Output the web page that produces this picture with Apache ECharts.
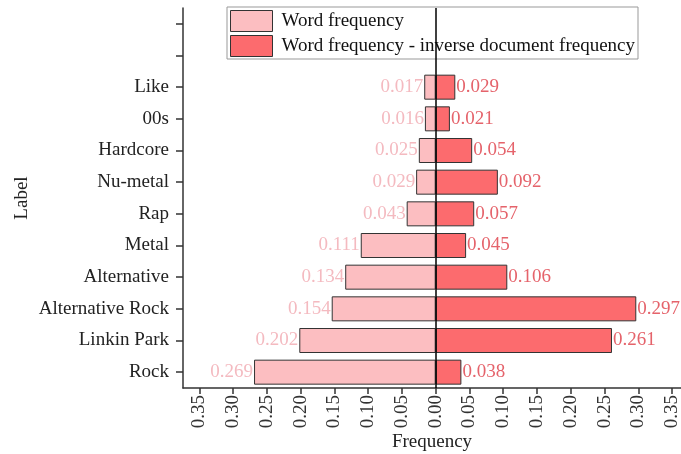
<!DOCTYPE html>
<html>
<head>
<meta charset="utf-8">
<script src="https://cdn.jsdelivr.net/npm/echarts@6/dist/echarts.min.js"></script>
<style>html,body{margin:0;padding:0;background:#fff}#c{width:681px;height:454px}</style>
</head>
<body>
<div id="c"></div>
<script>
const categories = ['Rock', 'Linkin Park', 'Alternative Rock', 'Alternative', 'Metal', 'Rap', 'Nu-metal', 'Hardcore', '00s', 'Like', '', ' '];
const wordFreq = [0.269, 0.202, 0.154, 0.134, 0.111, 0.043, 0.029, 0.025, 0.016, 0.017, null, null];
const tfidf = [0.038, 0.261, 0.297, 0.106, 0.045, 0.057, 0.092, 0.054, 0.021, 0.029, null, null];
const tickValues = [-0.35, -0.30, -0.25, -0.20, -0.15, -0.10, -0.05, 0, 0.05, 0.10, 0.15, 0.20, 0.25, 0.30, 0.35];

const FONT = '"Liberation Serif", "Times New Roman", serif';
const chart = echarts.init(document.getElementById('c'));
chart.setOption({
  backgroundColor: '#fff',
  animation: false,
  textStyle: { fontFamily: FONT },
  legend: {
    orient: 'vertical',
    left: 227, top: 7,
    width: 416,
    itemWidth: 42, itemHeight: 21, itemGap: 3,
    padding: [3, 3, 2, 3],
    backgroundColor: '#fff',
    borderColor: '#999', borderWidth: 1,
    icon: 'rect',
    z: 1,
    itemStyle: { borderColor: '#333', borderWidth: 1 },
    textStyle: { fontFamily: FONT, fontSize: 19, color: '#111', padding: [0, 0, 0, 4] },
    data: ['Word frequency', 'Word frequency - inverse document frequency']
  },
  grid: { left: 183, top: 8, bottom: 66, right: 0, outerBoundsMode: 'none' },
  xAxis: {
    type: 'value',
    min: -0.3742, max: 0.3632,
    name: 'Frequency', nameLocation: 'middle', nameGap: 45,
    nameMoveOverlap: false,
    nameTextStyle: { fontFamily: FONT, fontSize: 19, color: '#222', verticalAlign: 'top' },
    axisLine: { show: true, lineStyle: { color: '#333', width: 1.5 } },
    axisTick: { show: true, length: 6, lineStyle: { color: '#333', width: 1.5 }, customValues: tickValues },
    axisLabel: {
      rotate: 90, fontFamily: FONT, fontSize: 19, color: '#333', margin: 7,
      customValues: tickValues,
      formatter: v => Math.abs(v).toFixed(2)
    },
    splitLine: { show: false }
  },
  yAxis: {
    type: 'category',
    data: categories,
    name: 'Label', nameLocation: 'middle', nameGap: 151, nameRotate: 90,
    nameMoveOverlap: false,
    nameTextStyle: { fontFamily: FONT, fontSize: 19, color: '#222' },
    axisLine: { show: true, onZero: false, lineStyle: { color: '#333', width: 1.5 } },
    axisTick: { show: true, alignWithLabel: true, length: 7, lineStyle: { color: '#333', width: 1.5 } },
    axisLabel: { fontFamily: FONT, fontSize: 19, color: '#222', margin: 14 }
  },
  series: [
    {
      name: 'Word frequency',
      type: 'bar',
      barWidth: 25,
      barGap: '-100%',
      z: 3,
      data: wordFreq.map(v => v == null ? null : -v),
      itemStyle: { color: '#FCBEC1', borderColor: '#333', borderWidth: 1 },
      label: {
        show: true, position: 'left', distance: 1,
        fontFamily: FONT, fontSize: 19, color: '#F4BAC0',
        formatter: p => Math.abs(p.value).toFixed(3)
      },
      markLine: {
        silent: true, symbol: 'none', animation: false,
        label: { show: false },
        lineStyle: { color: '#000', width: 1.5, type: 'solid' },
        data: [{ xAxis: 0 }]
      }
    },
    {
      name: 'Word frequency - inverse document frequency',
      type: 'bar',
      barWidth: 25,
      z: 3,
      data: tfidf,
      itemStyle: { color: '#FC6B6E', borderColor: '#333', borderWidth: 1 },
      label: {
        show: true, position: 'right', distance: 1,
        fontFamily: FONT, fontSize: 19, color: '#E5636B',
        formatter: p => p.value.toFixed(3)
      }
    }
  ]
});
</script>
</body>
</html>
